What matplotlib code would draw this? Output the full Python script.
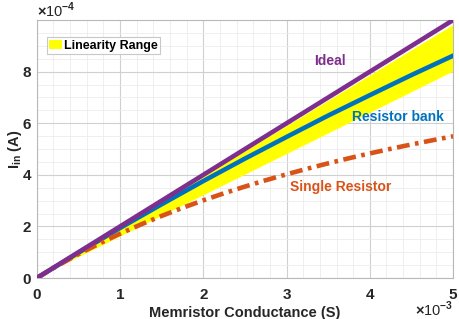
import matplotlib
matplotlib.use("Agg")
import matplotlib.pyplot as plt
from matplotlib.ticker import FuncFormatter, MultipleLocator

plt.rcParams['font.family'] = ['Liberation Sans', 'DejaVu Sans']
plt.rcParams['mathtext.fontset'] = 'custom'
plt.rcParams['mathtext.rm'] = 'Liberation Sans:bold'
plt.rcParams['mathtext.bf'] = 'Liberation Sans:bold'

# conductance (S)
G = [0, 0.5e-3, 1.0e-3, 1.5e-3, 2.0e-3, 2.5e-3, 3.0e-3, 3.5e-3, 4.0e-3, 4.5e-3, 5.0e-3]
ideal = [0, 1.0e-4, 2.0e-4, 3.0e-4, 4.0e-4, 5.0e-4, 6.0e-4, 7.0e-4, 8.0e-4, 9.0e-4, 10.0e-4]
bank = [0, 0.98e-4, 1.94e-4, 2.86e-4, 3.76e-4, 4.63e-4, 5.47e-4, 6.30e-4, 7.09e-4, 7.87e-4, 8.62e-4]
band_hi = [0, 0.98e-4, 1.96e-4, 2.94e-4, 3.92e-4, 4.90e-4, 5.88e-4, 6.86e-4, 7.84e-4, 8.82e-4, 9.80e-4]
band_lo = [0, 0.80e-4, 1.60e-4, 2.40e-4, 3.20e-4, 4.00e-4, 4.80e-4, 5.60e-4, 6.40e-4, 7.20e-4, 8.00e-4]

G_single = [0, 0.25e-3, 0.5e-3, 0.75e-3, 1.0e-3, 1.25e-3, 1.5e-3, 1.75e-3, 2.0e-3, 2.25e-3, 2.5e-3,
            2.75e-3, 3.0e-3, 3.25e-3, 3.5e-3, 3.75e-3, 4.0e-3, 4.25e-3, 4.5e-3, 4.75e-3, 5.0e-3]
single = [0, 0.480e-4, 0.924e-4, 1.336e-4, 1.718e-4, 2.075e-4, 2.408e-4, 2.720e-4, 3.012e-4, 3.287e-4,
          3.546e-4, 3.791e-4, 4.021e-4, 4.240e-4, 4.447e-4, 4.644e-4, 4.831e-4, 5.009e-4, 5.178e-4,
          5.340e-4, 5.495e-4]

purple = '#7E2F8E'
blue = '#0072BD'
orange = '#D95319'
dark = '#262626'

fig = plt.figure(figsize=(4.6, 3.19), dpi=100)
ax = fig.add_axes([0.080, 0.1285, 0.905, 0.8085])

ax.fill_between(G, band_lo, band_hi, color='#FFFF00', edgecolor='none', label='Linearity Range', zorder=2)
ax.plot(G, bank, color=blue, lw=3.3, zorder=3)
ax.plot(G_single, single, color=orange, lw=3.3, linestyle=(0, (2.8, 1.2, 0.8, 1.2)), zorder=4)
ax.plot(G, ideal, color=purple, lw=3.3, zorder=5)

ax.set_xlim(0, 5e-3)
ax.set_ylim(0, 1e-3)
ax.set_xticks([0, 1e-3, 2e-3, 3e-3, 4e-3, 5e-3])
ax.set_yticks([0, 2e-4, 4e-4, 6e-4, 8e-4])
ax.xaxis.set_minor_locator(MultipleLocator(0.2e-3))
ax.yaxis.set_minor_locator(MultipleLocator(0.5e-4))
ax.xaxis.set_major_formatter(FuncFormatter(lambda v, p: '%g' % round(v * 1e3, 6)))
ax.yaxis.set_major_formatter(FuncFormatter(lambda v, p: '%g' % round(v * 1e4, 6)))

ax.grid(which='major', color='#d0d0d0', lw=0.8)
ax.grid(which='minor', color='#ececec', lw=0.6)
ax.set_axisbelow(True)
for s in ax.spines.values():
    s.set_color('#b8b8b8')
ax.tick_params(which='both', direction='in', length=0, labelsize=11, labelcolor=dark)
ax.tick_params(axis='x', pad=7)
ax.tick_params(axis='y', pad=4)
for lab in ax.get_xticklabels() + ax.get_yticklabels():
    lab.set_fontweight('bold')

ax.set_xlabel('Memristor Conductance (S)', fontsize=10.5, fontweight='bold', color=dark, labelpad=3)
ax.set_ylabel(r'I$_{\mathrm{in}}$ (A)', fontsize=10.5, fontweight='bold', color=dark)
ax.yaxis.set_label_coords(-0.03, 0.5)

ax.text(0.0, 1.012, r'$\times$10$^{\mathrm{-4}}$', transform=ax.transAxes, fontsize=10.5,
        color=dark, ha='left', va='baseline')
ax.text(1.0, -0.148, r'$\times$10$^{\mathrm{-3}}$', transform=ax.transAxes, fontsize=10.5,
        color=dark, ha='right', va='baseline')

ax.text(3.52e-3, 8.43e-4, 'Ideal', color=purple, fontsize=10, fontweight='bold', ha='center', va='center')
ax.text(4.34e-3, 6.23e-4, 'Resistor bank', color=blue, fontsize=10, fontweight='bold', ha='center', va='center')
ax.text(3.65e-3, 3.52e-4, 'Single Resistor', color=orange, fontsize=10, fontweight='bold', ha='center', va='center')

leg = ax.legend(loc='upper left', bbox_to_anchor=(0.024, 0.934), fancybox=False, framealpha=1,
                edgecolor='#c8c8c8', prop={'weight': 'bold', 'size': 9}, handlelength=1.0,
                handleheight=0.8, handletextpad=0.15, borderpad=0.2, borderaxespad=0)
leg.get_frame().set_linewidth(0.8)

fig.savefig('out.png', dpi=100)
